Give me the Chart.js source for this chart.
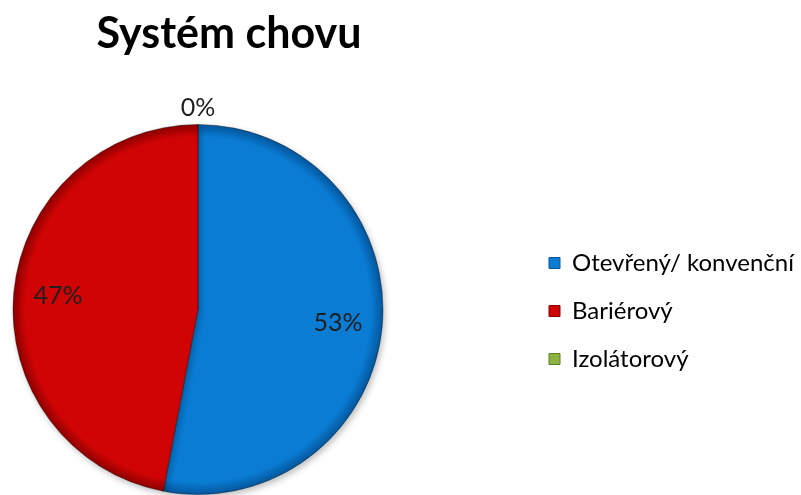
<!DOCTYPE html>
<html>
<head>
<meta charset="utf-8">
<script src="https://cdn.jsdelivr.net/npm/chart.js@4"></script>
<style>
  html, body { margin: 0; padding: 0; background: #fff; }
</style>
</head>
<body>
<canvas id="myChart" width="801" height="495"></canvas>
<script>
const chartTitle = 'Systém chovu';
const categories = ['Otevřený/ konvenční', 'Bariérový', 'Izolátorový'];
const shares = [53, 47, 0];
const sliceColors = ['#0A7CD4', '#D00404', '#8DB43E'];
const edgeColors = ['#04559A', '#8A0000', '#5C7E22'];

const pieRight = 396;     // the pie gets the area left of this
const legendItemX = 549;  // where the legend boxes start

// bevel look: flat colour in the middle, darker toward the rim
const bevelFill = (c) => {
  const base = sliceColors[c.dataIndex];
  const area = c.chart.chartArea;
  if (!area) return base;
  const cx = (area.left + area.right) / 2;
  const cy = (area.top + area.bottom) / 2;
  const r = Math.min(area.right - area.left, area.bottom - area.top) / 2;
  const g = c.chart.ctx.createRadialGradient(cx, cy, 0, cx, cy, r);
  g.addColorStop(0, base);
  g.addColorStop(0.93, base);
  g.addColorStop(1, edgeColors[c.dataIndex]);
  return g;
};

// widen the legend box so the pie sits on the left, then move the items right
const legendPlacement = {
  id: 'legendPlacement',
  afterInit(chart) {
    const legend = chart.legend;
    const fit = legend.fit;
    legend.fit = function () {
      fit.call(this);
      this.width = chart.width - pieRight;
    };
  },
  afterLayout(chart) {
    const legend = chart.legend;
    legend.left = legendItemX - legend.options.labels.padding;
  }
};

const pieShadow = {
  id: 'pieShadow',
  beforeDatasetsDraw(chart) {
    const ctx = chart.ctx;
    ctx.save();
    ctx.shadowColor = 'rgba(0, 0, 0, 0.25)';
    ctx.shadowBlur = 6;
    ctx.shadowOffsetX = 2;
    ctx.shadowOffsetY = 3;
  },
  afterDatasetsDraw(chart) {
    chart.ctx.restore();
  }
};

// percentage labels, inside the slices; empty slices get theirs outside
const sliceLabels = {
  id: 'sliceLabels',
  afterDatasetsDraw(chart) {
    const ctx = chart.ctx;
    const meta = chart.getDatasetMeta(0);
    ctx.save();
    ctx.font = '25px Lato';
    ctx.fillStyle = '#1f1f1f';
    ctx.textAlign = 'center';
    ctx.textBaseline = 'middle';
    meta.data.forEach((arc, i) => {
      const p = arc.getProps(['x', 'y', 'startAngle', 'endAngle', 'outerRadius'], true);
      const mid = (p.startAngle + p.endAngle) / 2;
      const dist = shares[i] > 0 ? p.outerRadius * 0.76 : p.outerRadius + 17;
      ctx.fillText(shares[i] + '%', p.x + Math.cos(mid) * dist, p.y + Math.sin(mid) * dist);
    });
    ctx.restore();
  }
};

const titleText = {
  id: 'titleText',
  afterDraw(chart) {
    const ctx = chart.ctx;
    ctx.save();
    ctx.font = 'bold 43px Lato';
    ctx.fillStyle = '#000';
    ctx.textAlign = 'center';
    ctx.textBaseline = 'alphabetic';
    ctx.fillText(chartTitle, 229, 48);
    ctx.restore();
  }
};

new Chart(document.getElementById('myChart'), {
  type: 'pie',
  data: {
    labels: categories,
    datasets: [{
      data: shares,
      backgroundColor: bevelFill,
      borderColor: 'rgba(0, 0, 0, 0.35)',
      borderWidth: 1
    }]
  },
  options: {
    responsive: false,
    animation: false,
    layout: { padding: { left: 0, top: 124, right: 0, bottom: -3 } },
    plugins: {
      tooltip: { enabled: false },
      legend: {
        position: 'right',
        align: 'center',
        labels: {
          boxWidth: 11,
          boxHeight: 11,
          padding: 24,
          color: '#262626',
          font: { family: 'Lato', size: 24 },
          generateLabels() {
            return categories.map((text, i) => ({
              text,
              fillStyle: sliceColors[i],
              strokeStyle: edgeColors[i],
              lineWidth: 1,
              hidden: false,
              index: i
            }));
          }
        }
      }
    }
  },
  plugins: [legendPlacement, pieShadow, sliceLabels, titleText]
});
</script>
</body>
</html>
